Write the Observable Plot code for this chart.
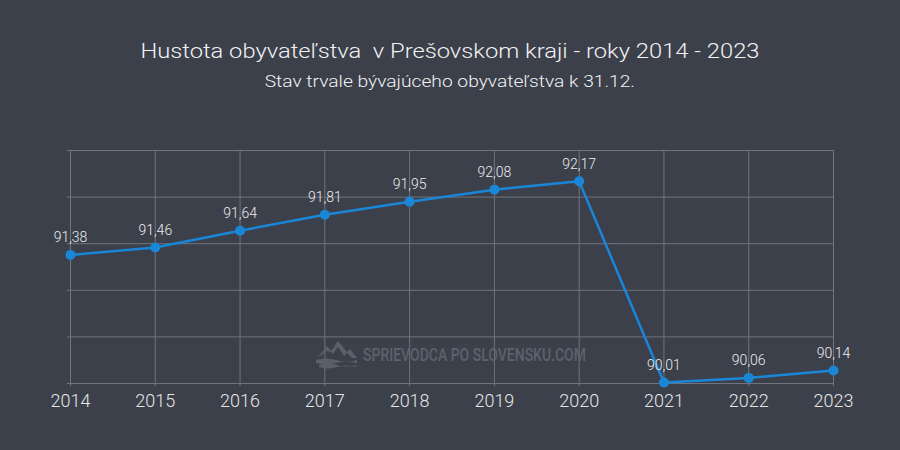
<!DOCTYPE html>
<html>
<head>
<meta charset="utf-8">
<script src="https://cdn.jsdelivr.net/npm/d3@7"></script>
<script src="https://cdn.jsdelivr.net/npm/@observablehq/plot@0.6"></script>
<style>
  html, body { margin: 0; padding: 0; background: #3b404b; }
  #wrap { position: relative; width: 900px; height: 450px; background: #3b404b; overflow: hidden; font-family: Roboto, "Noto Sans", sans-serif; }
  .hdr { position: absolute; left: 0; width: 900px; text-align: center; color: #f2f2f2; font-weight: 300; white-space: pre; }
  .hdr span { display: inline-block; transform: scaleX(1.13); transform-origin: center; }
  #title { top: 37px; font-size: 21px; line-height: 28px; }
  #subtitle { top: 69px; font-size: 17px; line-height: 24px; }
  #chart { position: absolute; top: 120px; left: 0; }
  #wm { position: absolute; top: 336px; left: 314px; overflow: visible; }
</style>
</head>
<body>
<div id="wrap">
  <div id="title" class="hdr"><span>Hustota obyvateľstva  v Prešovskom kraji - roky 2014 - 2023</span></div>
  <div id="subtitle" class="hdr"><span>Stav trvale bývajúceho obyvateľstva k 31.12.</span></div>
  <div id="chart"></div>
  <svg id="wm" width="320" height="36" viewBox="0 0 320 36">
    <path d="M3 22 L13 10 L17 15 L24 5 L33 16 L36 13 L43 22 L38 22 L33 17 L30 20 L24 11 L19 18 L17 16 L13 15 Z" fill="#5a5f69"/>
    <path d="M2 24 Q12 21 22 24 T43 24 L43 27 Q32 24 22 27 T2 27 Z" fill="#5a5f69"/>
    <path d="M5 29 Q15 26 23 29 T42 29 L42 31 Q32 28 23 31 T5 31 Z" fill="#5a5f69"/>
    <text x="49" y="25" textLength="223" lengthAdjust="spacingAndGlyphs" font-family="Roboto, sans-serif" font-weight="500" font-size="18" fill="#5d626c">SPRIEVODCA PO SLOVENSKU.COM</text>
  </svg>
</div>
<script>
const years = [2014, 2015, 2016, 2017, 2018, 2019, 2020, 2021, 2022, 2023];
const density = [91.38, 91.46, 91.64, 91.81, 91.95, 92.08, 92.17, 90.01, 90.06, 90.14];
const yTicks = [90, 90.5, 91, 91.5, 92, 92.5];

const data = years.map((y, i) => ({year: y, value: density[i]}));
const fmt = v => v.toFixed(2).replace(".", ",");

const chart = Plot.plot({
  width: 900,
  height: 330,
  marginTop: 30,
  marginBottom: 67,
  marginLeft: 70,
  marginRight: 67,
  style: {background: "transparent", color: "#e6e6e6", fontFamily: "Roboto, sans-serif"},
  x: {domain: [2014, 2023], ticks: years, tickFormat: d => String(d)},
  y: {domain: [90, 92.5], ticks: yTicks},
  marks: [
    Plot.gridY(yTicks, {stroke: "#6f747e", strokeOpacity: 1, strokeWidth: 1}),
    Plot.gridX(years, {stroke: "#6f747e", strokeOpacity: 1, strokeWidth: 1}),
    Plot.axisY(yTicks, {tickSize: 3, tickFormat: () => "", stroke: "#6f747e", label: null}),
    Plot.axisX(years, {tickSize: 3, tickPadding: 8, stroke: "#6f747e", fill: "#e6e6e6", fontSize: 18, fontWeight: 300, label: null, tickFormat: d => String(d)}),
    Plot.line(data, {x: "year", y: "value", stroke: "#1a86d8", strokeWidth: 2.5}),
    Plot.dot(data, {x: "year", y: "value", r: 5, fill: "#1a86d8"}),
    Plot.text(data, {x: "year", y: "value", text: d => fmt(d.value), dy: -17, fill: "#ececec", fontSize: 14, fontWeight: 300})
  ]
});
document.getElementById("chart").appendChild(chart);
</script>
</body>
</html>
